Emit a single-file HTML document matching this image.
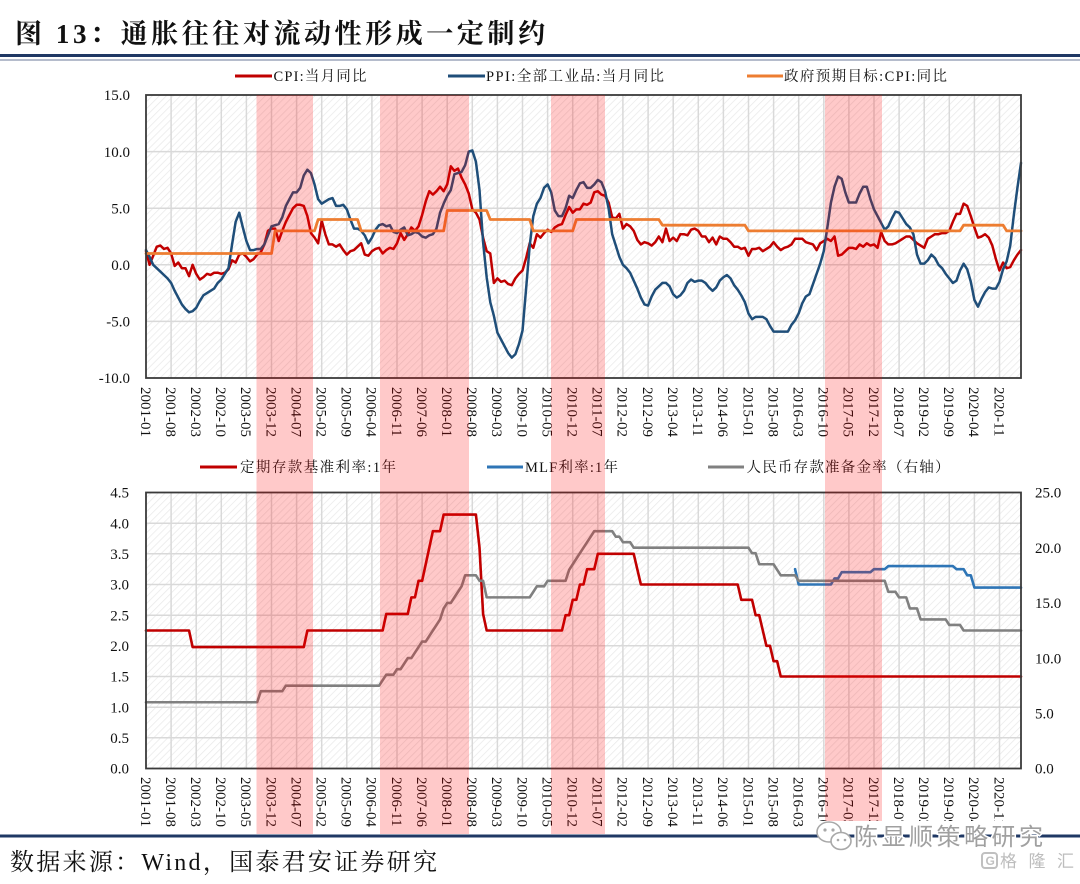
<!DOCTYPE html>
<html>
<head>
<meta charset="utf-8">
<style>
  html,body{margin:0;padding:0;background:#fff;}
  svg{display:block;}
  .ser{fill:none;stroke-linejoin:round;stroke-linecap:round;}
  text{font-family:"Liberation Serif","Noto Serif CJK SC",serif;fill:#111;}
</style>
</head>
<body>
<svg width="1080" height="884" viewBox="0 0 1080 884" xmlns="http://www.w3.org/2000/svg">
  <defs>
    <pattern id="hatch" width="5" height="5" patternUnits="userSpaceOnUse" patternTransform="rotate(45)">
      <line x1="0" y1="0" x2="0" y2="5" stroke="#e9e9e9" stroke-width="1.5"/>
    </pattern>
  </defs>
  <rect x="0" y="0" width="1080" height="884" fill="#fff"/>

  <!-- Title -->
  <text x="15" y="43" font-size="27" font-weight="bold" textLength="530" lengthAdjust="spacing">图 13：通胀往往对流动性形成一定制约</text>
  <rect x="0" y="54" width="1080" height="3" fill="#1f3864"/>
  <rect x="0" y="59.5" width="1080" height="1" fill="#6b7a99"/>

  <!-- Top legend -->
  <line x1="235" y1="76" x2="272" y2="76" stroke="#c00000" stroke-width="3"/>
  <text x="273.5" y="81" font-size="14.5" textLength="93" lengthAdjust="spacing">CPI:当月同比</text>
  <line x1="448" y1="76" x2="485" y2="76" stroke="#1f4e79" stroke-width="3"/>
  <text x="486" y="81" font-size="14.5" textLength="178" lengthAdjust="spacing">PPI:全部工业品:当月同比</text>
  <line x1="747" y1="76" x2="783" y2="76" stroke="#ed7d31" stroke-width="3"/>
  <text x="784" y="81" font-size="14.5" textLength="163" lengthAdjust="spacing">政府预期目标:CPI:同比</text>

  <!-- Top plot -->
  <rect x="146" y="95" width="875" height="283" fill="#fff"/>
  <rect x="146" y="95" width="875" height="283" fill="url(#hatch)"/>
  <g stroke="#d9d9d9" stroke-width="1.5">
    <line x1="146" y1="151.6" x2="1021" y2="151.6"/>
    <line x1="146" y1="208.2" x2="1021" y2="208.2"/>
    <line x1="146" y1="264.8" x2="1021" y2="264.8"/>
    <line x1="146" y1="321.4" x2="1021" y2="321.4"/>
  </g>
  <g stroke="#d9d9d9" stroke-width="1.5">
    <line x1="171.1" y1="95" x2="171.1" y2="378"/><line x1="196.2" y1="95" x2="196.2" y2="378"/>
    <line x1="221.3" y1="95" x2="221.3" y2="378"/><line x1="246.4" y1="95" x2="246.4" y2="378"/>
    <line x1="271.5" y1="95" x2="271.5" y2="378"/><line x1="296.6" y1="95" x2="296.6" y2="378"/>
    <line x1="321.7" y1="95" x2="321.7" y2="378"/><line x1="346.8" y1="95" x2="346.8" y2="378"/>
    <line x1="371.9" y1="95" x2="371.9" y2="378"/><line x1="397.0" y1="95" x2="397.0" y2="378"/>
    <line x1="422.1" y1="95" x2="422.1" y2="378"/><line x1="447.2" y1="95" x2="447.2" y2="378"/>
    <line x1="472.3" y1="95" x2="472.3" y2="378"/><line x1="497.4" y1="95" x2="497.4" y2="378"/>
    <line x1="522.5" y1="95" x2="522.5" y2="378"/><line x1="547.6" y1="95" x2="547.6" y2="378"/>
    <line x1="572.7" y1="95" x2="572.7" y2="378"/><line x1="597.8" y1="95" x2="597.8" y2="378"/>
    <line x1="622.9" y1="95" x2="622.9" y2="378"/><line x1="648.1" y1="95" x2="648.1" y2="378"/>
    <line x1="673.2" y1="95" x2="673.2" y2="378"/><line x1="698.3" y1="95" x2="698.3" y2="378"/>
    <line x1="723.4" y1="95" x2="723.4" y2="378"/><line x1="748.5" y1="95" x2="748.5" y2="378"/>
    <line x1="773.6" y1="95" x2="773.6" y2="378"/><line x1="798.7" y1="95" x2="798.7" y2="378"/>
    <line x1="823.8" y1="95" x2="823.8" y2="378"/><line x1="848.9" y1="95" x2="848.9" y2="378"/>
    <line x1="874.0" y1="95" x2="874.0" y2="378"/><line x1="899.1" y1="95" x2="899.1" y2="378"/>
    <line x1="924.2" y1="95" x2="924.2" y2="378"/><line x1="949.3" y1="95" x2="949.3" y2="378"/>
    <line x1="974.4" y1="95" x2="974.4" y2="378"/><line x1="999.5" y1="95" x2="999.5" y2="378"/>
  </g>

  <g transform="translate(146,264.8) scale(3.58607,-11.32)">
    <polyline class="ser" vector-effect="non-scaling-stroke" stroke="#c00000" stroke-width="2.5" points="0,1.2 1,0 2,0.8 3,1.6 4,1.7 5,1.4 6,1.5 7,1 8,-0.1 9,0.2 10,-0.3 11,-0.3 12,-1 13,0 14,-0.8 15,-1.3 16,-1.1 17,-0.8 18,-0.9 19,-0.7 20,-0.7 21,-0.8 22,-0.7 23,-0.4 24,0.4 25,0.2 26,0.9 27,1 28,0.7 29,0.3 30,0.5 31,0.9 32,1.1 33,1.8 34,3 35,3.2 36,3.2 37,2.1 38,3 39,3.8 40,4.4 41,5 42,5.3 43,5.3 44,5.2 45,4.3 46,2.8 47,2.4 48,1.9 49,3.9 50,2.7 51,1.8 52,1.8 53,1.6 54,1.8 55,1.3 56,0.9 57,1.2 58,1.3 59,1.6 60,1.9 61,0.9 62,0.8 63,1.2 64,1.4 65,1.5 66,1 67,1.3 68,1.5 69,1.4 70,1.9 71,2.8 72,2.2 73,2.7 74,3.3 75,3 76,3.4 77,4.4 78,5.6 79,6.5 80,6.2 81,6.5 82,6.9 83,6.5 84,7.1 85,8.7 86,8.3 87,8.5 88,7.7 89,7.1 90,6.3 91,4.9 92,4.6 93,4 94,2.4 95,1.2 96,1 97,-1.6 98,-1.2 99,-1.5 100,-1.4 101,-1.7 102,-1.8 103,-1.2 104,-0.8 105,-0.5 106,0.6 107,1.9 108,1.5 109,2.7 110,2.4 111,2.8 112,3.1 113,2.9 114,3.3 115,3.5 116,3.6 117,4.4 118,5.1 119,4.6 120,4.9 121,4.9 122,5.4 123,5.3 124,5.5 125,6.4 126,6.5 127,6.2 128,6.1 129,5.5 130,4.2 131,4.1 132,4.5 133,3.2 134,3.6 135,3.4 136,3 137,2.2 138,1.8 139,2 140,1.9 141,1.7 142,2 143,2.5 144,2 145,3.2 146,2.1 147,2.4 148,2.1 149,2.7 150,2.7 151,2.6 152,3.1 153,3.2 154,3 155,2.5 156,2.5 157,2 158,2.4 159,1.8 160,2.5 161,2.3 162,2.3 163,2 164,1.6 165,1.6 166,1.4 167,1.5 168,0.8 169,1.4 170,1.4 171,1.5 172,1.2 173,1.4 174,1.6 175,2 176,1.6 177,1.3 178,1.5 179,1.6 180,1.8 181,2.3 182,2.3 183,2.3 184,2 185,1.9 186,1.8 187,1.3 188,1.9 189,2.1 190,2.3 191,2.1 192,2.5 193,0.8 194,0.9 195,1.2 196,1.5 197,1.5 198,1.4 199,1.8 200,1.6 201,1.9 202,1.7 203,1.8 204,1.5 205,2.9 206,2.1 207,1.8 208,1.8 209,1.9 210,2.1 211,2.3 212,2.5 213,2.5 214,2.2 215,1.9 216,1.7 217,1.5 218,2.3 219,2.5 220,2.7 221,2.7 222,2.8 223,2.8 224,3 225,3.8 226,4.5 227,4.5 228,5.4 229,5.2 230,4.3 231,3.3 232,2.4 233,2.5 234,2.7 235,2.4 236,1.7 237,0.5 238,-0.5 239,0.2 240,-0.3 241,-0.2 242,0.4 243,0.9 244,1.3"/>
    <polyline class="ser" vector-effect="non-scaling-stroke" stroke="#1f4e79" stroke-width="2.5" points="0,1.3 1,0.7 2,0 3,-0.3 4,-0.6 5,-0.9 6,-1.2 7,-1.6 8,-2.3 9,-2.9 10,-3.5 11,-3.9 12,-4.2 13,-4.1 14,-3.8 15,-3.2 16,-2.7 17,-2.5 18,-2.3 19,-2.1 20,-1.6 21,-1.3 22,-0.8 23,-0.3 24,1.8 25,3.8 26,4.6 27,3.3 28,2.1 29,1.3 30,1.3 31,1.4 32,1.4 33,1.8 34,2.6 35,3.4 36,3.5 37,3.6 38,4.2 39,5.2 40,5.8 41,6.4 42,6.4 43,6.8 44,7.9 45,8.4 46,8.1 47,7.1 48,5.8 49,5.4 50,5.6 51,5.8 52,5.9 53,5.2 54,5.2 55,5.3 56,4.9 57,4 58,3.2 59,3.2 60,3 61,2.6 62,1.9 63,2.4 64,3.1 65,3.5 66,3.6 67,3.4 68,3.5 69,2.9 70,2.8 71,3.1 72,3.3 73,2.6 74,2.7 75,2.9 76,2.8 77,2.5 78,2.4 79,2.6 80,2.7 81,3.2 82,4.6 83,5.4 84,6.1 85,6.6 86,8 87,8.1 88,8.2 89,8.8 90,10 91,10.1 92,9.1 93,6.6 94,2 95,-1.1 96,-3.3 97,-4.5 98,-6 99,-6.6 100,-7.2 101,-7.8 102,-8.2 103,-7.9 104,-7 105,-5.8 106,-2.1 107,1.7 108,4.3 109,5.4 110,5.9 111,6.8 112,7.1 113,6.4 114,4.8 115,4.3 116,4.3 117,5 118,6.1 119,5.9 120,6.6 121,7.2 122,7.3 123,6.8 124,6.8 125,7.1 126,7.5 127,7.3 128,6.5 129,5 130,2.7 131,1.7 132,0.7 133,0 134,-0.3 135,-0.7 136,-1.4 137,-2.1 138,-2.9 139,-3.5 140,-3.6 141,-2.8 142,-2.2 143,-1.9 144,-1.6 145,-1.6 146,-1.9 147,-2.6 148,-2.9 149,-2.7 150,-2.3 151,-1.6 152,-1.3 153,-1.5 154,-1.4 155,-1.4 156,-1.6 157,-2 158,-2.3 159,-2 160,-1.4 161,-1.1 162,-0.9 163,-1.2 164,-1.8 165,-2.2 166,-2.7 167,-3.3 168,-4.3 169,-4.8 170,-4.6 171,-4.6 172,-4.6 173,-4.8 174,-5.4 175,-5.9 176,-5.9 177,-5.9 178,-5.9 179,-5.9 180,-5.3 181,-4.9 182,-4.3 183,-3.4 184,-2.8 185,-2.6 186,-1.7 187,-0.8 188,0.1 189,1.2 190,3.3 191,5.5 192,6.9 193,7.8 194,7.6 195,6.4 196,5.5 197,5.5 198,5.5 199,6.3 200,6.9 201,6.9 202,5.8 203,4.9 204,4.3 205,3.7 206,3.1 207,3.4 208,4.1 209,4.7 210,4.6 211,4.1 212,3.6 213,3.3 214,2.7 215,0.9 216,0.1 217,0.1 218,0.4 219,0.9 220,0.6 221,0 222,-0.3 223,-0.8 224,-1.2 225,-1.6 226,-1.4 227,-0.5 228,0.1 229,-0.4 230,-1.5 231,-3.1 232,-3.7 233,-3 234,-2.4 235,-2 236,-2.1 237,-2.1 238,-1.5 239,-0.4 240,0.3 241,1.7 242,4.4 243,6.8 244,9"/>
    <polyline class="ser" vector-effect="non-scaling-stroke" stroke="#ed7d31" stroke-width="2.8" points="0,1 35,1 36,3 47,3 48,4 59,4 60,3 83,3 84,4.8 95,4.8 96,4 107,4 108,3 119,3 120,4 143,4 144,3.5 167,3.5 168,3 227,3 228,3.5 239,3.5 240,3 244,3"/>
  </g>
  <rect x="146" y="95" width="875" height="283" fill="none" stroke="#3a3a3a" stroke-width="1.8"/>

  <g font-size="15" text-anchor="end">
    <text x="130" y="100">15.0</text>
    <text x="130" y="156.8">10.0</text>
    <text x="130" y="213.4">5.0</text>
    <text x="130" y="270">0.0</text>
    <text x="130" y="326.6">-5.0</text>
    <text x="130" y="383.2">-10.0</text>
  </g>

  <g font-size="15" transform="rotate(90) translate(0,5.2)">
    <text x="387" y="-146.0">2001-01</text><text x="387" y="-171.1">2001-08</text>
    <text x="387" y="-196.2">2002-03</text><text x="387" y="-221.3">2002-10</text>
    <text x="387" y="-246.4">2003-05</text><text x="387" y="-271.5">2003-12</text>
    <text x="387" y="-296.6">2004-07</text><text x="387" y="-321.7">2005-02</text>
    <text x="387" y="-346.8">2005-09</text><text x="387" y="-371.9">2006-04</text>
    <text x="387" y="-397.0">2006-11</text><text x="387" y="-422.1">2007-06</text>
    <text x="387" y="-447.2">2008-01</text><text x="387" y="-472.3">2008-08</text>
    <text x="387" y="-497.4">2009-03</text><text x="387" y="-522.5">2009-10</text>
    <text x="387" y="-547.6">2010-05</text><text x="387" y="-572.7">2010-12</text>
    <text x="387" y="-597.8">2011-07</text><text x="387" y="-622.9">2012-02</text>
    <text x="387" y="-648.1">2012-09</text><text x="387" y="-673.2">2013-04</text>
    <text x="387" y="-698.3">2013-11</text><text x="387" y="-723.4">2014-06</text>
    <text x="387" y="-748.5">2015-01</text><text x="387" y="-773.6">2015-08</text>
    <text x="387" y="-798.7">2016-03</text><text x="387" y="-823.8">2016-10</text>
    <text x="387" y="-848.9">2017-05</text><text x="387" y="-874.0">2017-12</text>
    <text x="387" y="-899.1">2018-07</text><text x="387" y="-924.2">2019-02</text>
    <text x="387" y="-949.3">2019-09</text><text x="387" y="-974.4">2020-04</text>
    <text x="387" y="-999.5">2020-11</text>
  </g>

  <!-- Bottom legend -->
  <line x1="200" y1="467" x2="237" y2="467" stroke="#c00000" stroke-width="3"/>
  <text x="240" y="472" font-size="14.5" textLength="156" lengthAdjust="spacing">定期存款基准利率:1年</text>
  <line x1="487" y1="467" x2="523" y2="467" stroke="#2e75b6" stroke-width="3"/>
  <text x="525" y="472" font-size="14.5" textLength="93" lengthAdjust="spacing">MLF利率:1年</text>
  <line x1="708" y1="467" x2="744" y2="467" stroke="#808080" stroke-width="3"/>
  <text x="746.5" y="472" font-size="14.5" textLength="203" lengthAdjust="spacing">人民币存款准备金率（右轴）</text>

  <!-- Bottom plot -->
  <rect x="146" y="492.5" width="875" height="276" fill="#fff"/>
  <rect x="146" y="492.5" width="875" height="276" fill="url(#hatch)"/>
  <g stroke="#d9d9d9" stroke-width="1.5">
    <line x1="146" y1="523.2" x2="1021" y2="523.2"/>
    <line x1="146" y1="553.8" x2="1021" y2="553.8"/>
    <line x1="146" y1="584.5" x2="1021" y2="584.5"/>
    <line x1="146" y1="615.2" x2="1021" y2="615.2"/>
    <line x1="146" y1="645.8" x2="1021" y2="645.8"/>
    <line x1="146" y1="676.5" x2="1021" y2="676.5"/>
    <line x1="146" y1="707.2" x2="1021" y2="707.2"/>
    <line x1="146" y1="737.8" x2="1021" y2="737.8"/>
  </g>
  <g stroke="#d9d9d9" stroke-width="1.5">
    <line x1="171.1" y1="492.5" x2="171.1" y2="768.5"/><line x1="196.2" y1="492.5" x2="196.2" y2="768.5"/>
    <line x1="221.3" y1="492.5" x2="221.3" y2="768.5"/><line x1="246.4" y1="492.5" x2="246.4" y2="768.5"/>
    <line x1="271.5" y1="492.5" x2="271.5" y2="768.5"/><line x1="296.6" y1="492.5" x2="296.6" y2="768.5"/>
    <line x1="321.7" y1="492.5" x2="321.7" y2="768.5"/><line x1="346.8" y1="492.5" x2="346.8" y2="768.5"/>
    <line x1="371.9" y1="492.5" x2="371.9" y2="768.5"/><line x1="397.0" y1="492.5" x2="397.0" y2="768.5"/>
    <line x1="422.1" y1="492.5" x2="422.1" y2="768.5"/><line x1="447.2" y1="492.5" x2="447.2" y2="768.5"/>
    <line x1="472.3" y1="492.5" x2="472.3" y2="768.5"/><line x1="497.4" y1="492.5" x2="497.4" y2="768.5"/>
    <line x1="522.5" y1="492.5" x2="522.5" y2="768.5"/><line x1="547.6" y1="492.5" x2="547.6" y2="768.5"/>
    <line x1="572.7" y1="492.5" x2="572.7" y2="768.5"/><line x1="597.8" y1="492.5" x2="597.8" y2="768.5"/>
    <line x1="622.9" y1="492.5" x2="622.9" y2="768.5"/><line x1="648.1" y1="492.5" x2="648.1" y2="768.5"/>
    <line x1="673.2" y1="492.5" x2="673.2" y2="768.5"/><line x1="698.3" y1="492.5" x2="698.3" y2="768.5"/>
    <line x1="723.4" y1="492.5" x2="723.4" y2="768.5"/><line x1="748.5" y1="492.5" x2="748.5" y2="768.5"/>
    <line x1="773.6" y1="492.5" x2="773.6" y2="768.5"/><line x1="798.7" y1="492.5" x2="798.7" y2="768.5"/>
    <line x1="823.8" y1="492.5" x2="823.8" y2="768.5"/><line x1="848.9" y1="492.5" x2="848.9" y2="768.5"/>
    <line x1="874.0" y1="492.5" x2="874.0" y2="768.5"/><line x1="899.1" y1="492.5" x2="899.1" y2="768.5"/>
    <line x1="924.2" y1="492.5" x2="924.2" y2="768.5"/><line x1="949.3" y1="492.5" x2="949.3" y2="768.5"/>
    <line x1="974.4" y1="492.5" x2="974.4" y2="768.5"/><line x1="999.5" y1="492.5" x2="999.5" y2="768.5"/>
  </g>

  <g transform="translate(146,768.5) scale(3.58607,-61.3333)">
    <polyline class="ser" vector-effect="non-scaling-stroke" stroke="#c00000" stroke-width="2.6" points="0,2.25 12,2.25 13,1.98 44,1.98 45,2.25 66,2.25 67,2.52 73,2.52 74,2.79 75,2.79 76,3.06 77,3.06 78,3.33 79,3.6 80,3.87 82,3.87 83,4.14 92,4.14 93,3.6 94,2.52 95,2.25 116,2.25 117,2.5 118,2.5 119,2.75 120,2.75 121,3 122,3 123,3.25 125,3.25 126,3.5 136,3.5 137,3.25 138,3 165,3 166,2.75 169,2.75 170,2.5 171,2.5 172,2.25 173,2 174,2 175,1.75 176,1.75 177,1.5 244,1.5"/>
    <polyline class="ser" vector-effect="non-scaling-stroke" stroke="#2e75b6" stroke-width="2.6" points="181,3.25 182,3 191,3 192,3.1 193,3.1 194,3.2 202,3.2 203,3.25 206,3.25 207,3.3 225,3.3 226,3.25 228,3.25 229,3.15 230,3.15 231,2.95 244,2.95"/>
  </g>
  <g transform="translate(146,768.5) scale(3.58607,-11.04)">
    <polyline class="ser" vector-effect="non-scaling-stroke" stroke="#808080" stroke-width="2.6" points="0,6 31,6 32,7 38,7 39,7.5 65,7.5 66,8 67,8.5 69,8.5 70,9 71,9 72,9.5 73,10 74,10 75,10.5 76,11 77,11.5 78,11.5 79,12 80,12.5 81,13 82,13.5 83,14.5 84,15 85,15 86,15.5 87,16 88,16.5 89,17.5 92,17.5 93,17 94,17 95,15.5 107,15.5 108,16 109,16.5 111,16.5 112,17 117,17 118,18 119,18.5 120,19 121,19.5 122,20 123,20.5 124,21 125,21.5 130,21.5 131,21 132,21 133,20.5 135,20.5 136,20 168,20 169,19.5 170,19.5 171,18.5 175,18.5 176,18 177,17.5 181,17.5 182,17 206,17 207,16 209,16 210,15.5 212,15.5 213,14.5 215,14.5 216,13.5 223,13.5 224,13 227,13 228,12.5 244,12.5"/>
  </g>
  <rect x="146" y="492.5" width="875" height="276" fill="none" stroke="#3a3a3a" stroke-width="1.8"/>

  <g font-size="15" text-anchor="end">
    <text x="129" y="497.7">4.5</text>
    <text x="129" y="528.4">4.0</text>
    <text x="129" y="559">3.5</text>
    <text x="129" y="589.7">3.0</text>
    <text x="129" y="620.4">2.5</text>
    <text x="129" y="651">2.0</text>
    <text x="129" y="681.7">1.5</text>
    <text x="129" y="712.4">1.0</text>
    <text x="129" y="743">0.5</text>
    <text x="129" y="773.7">0.0</text>
  </g>
  <g font-size="15" text-anchor="start">
    <text x="1035" y="497.7">25.0</text>
    <text x="1035" y="552.9">20.0</text>
    <text x="1035" y="608.1">15.0</text>
    <text x="1035" y="663.3">10.0</text>
    <text x="1035" y="718.5">5.0</text>
    <text x="1035" y="773.7">0.0</text>
  </g>

  <g font-size="15" transform="rotate(90) translate(0,5.2)">
    <text x="777" y="-146.0">2001-01</text><text x="777" y="-171.1">2001-08</text>
    <text x="777" y="-196.2">2002-03</text><text x="777" y="-221.3">2002-10</text>
    <text x="777" y="-246.4">2003-05</text><text x="777" y="-271.5">2003-12</text>
    <text x="777" y="-296.6">2004-07</text><text x="777" y="-321.7">2005-02</text>
    <text x="777" y="-346.8">2005-09</text><text x="777" y="-371.9">2006-04</text>
    <text x="777" y="-397.0">2006-11</text><text x="777" y="-422.1">2007-06</text>
    <text x="777" y="-447.2">2008-01</text><text x="777" y="-472.3">2008-08</text>
    <text x="777" y="-497.4">2009-03</text><text x="777" y="-522.5">2009-10</text>
    <text x="777" y="-547.6">2010-05</text><text x="777" y="-572.7">2010-12</text>
    <text x="777" y="-597.8">2011-07</text><text x="777" y="-622.9">2012-02</text>
    <text x="777" y="-648.1">2012-09</text><text x="777" y="-673.2">2013-04</text>
    <text x="777" y="-698.3">2013-11</text><text x="777" y="-723.4">2014-06</text>
    <text x="777" y="-748.5">2015-01</text><text x="777" y="-773.6">2015-08</text>
    <text x="777" y="-798.7">2016-03</text><text x="777" y="-823.8">2016-10</text>
    <text x="777" y="-848.9">2017-05</text><text x="777" y="-874.0">2017-12</text>
    <text x="777" y="-899.1">2018-07</text><text x="777" y="-924.2">2019-02</text>
    <text x="777" y="-949.3">2019-09</text><text x="777" y="-974.4">2020-04</text>
    <text x="777" y="-999.5">2020-11</text>
  </g>

  <g fill="rgb(255,0,0)" fill-opacity="0.21">
    <rect x="256.5" y="95" width="56.5" height="739"/>
    <rect x="380" y="95" width="89" height="739"/>
    <rect x="551" y="95" width="54" height="739"/>
    <rect x="825" y="95" width="57" height="739"/>
  </g>

  <rect x="812" y="821" width="268" height="13" fill="#fff"/>

  <!-- Footer -->
  <rect x="0" y="834.5" width="1080" height="3" fill="#1f3864"/>
  <text x="10" y="870" font-size="24" textLength="427" lengthAdjust="spacing">数据来源：Wind，国泰君安证券研究</text>

  <!-- Watermark -->
  <g fill="#fff" stroke="#a8a8a8" stroke-width="1.6">
    <ellipse cx="829" cy="832" rx="12" ry="10"/>
    <ellipse cx="841" cy="841" rx="10" ry="8.5"/>
  </g>
  <g fill="#a8a8a8">
    <circle cx="825" cy="830" r="1.6"/><circle cx="833" cy="830" r="1.6"/>
    <circle cx="838" cy="840" r="1.3"/><circle cx="845" cy="840" r="1.3"/>
  </g>
  <text x="854" y="845" font-size="24" textLength="189" lengthAdjust="spacing" style="font-family:'Noto Sans CJK SC','WenQuanYi Zen Hei',sans-serif;fill:#a0a0a0;stroke:#fff;stroke-width:3;paint-order:stroke;">陈显顺策略研究</text>
  <rect x="982" y="853" width="15" height="15" rx="3" fill="none" stroke="#c0c0c0" stroke-width="2"/>
  <text x="985.5" y="865" font-size="12" style="font-family:'Liberation Sans',sans-serif;fill:#c0c0c0;font-weight:bold;">G</text>
  <text x="1000" y="867" font-size="17" textLength="74" lengthAdjust="spacing" style="font-family:'Noto Sans CJK SC','WenQuanYi Zen Hei',sans-serif;fill:#bdbdbd;">格隆汇</text>
</svg>
</body>
</html>
